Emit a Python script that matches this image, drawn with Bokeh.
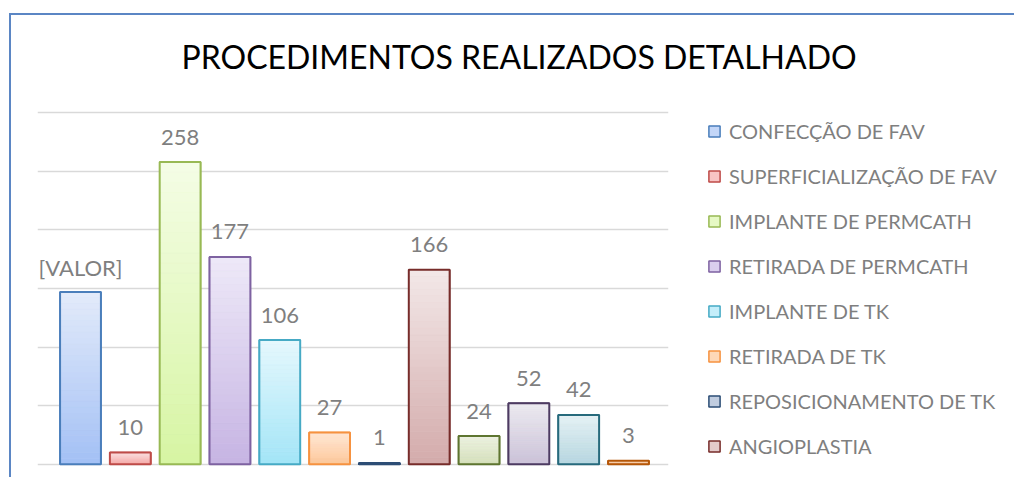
from bokeh.plotting import figure
from bokeh.models import (ColumnDataSource, Range1d, Grid, FixedTicker, Legend,
                          LegendItem, LabelSet, Title)
from bokeh.core.properties import value
from bokeh.embed import file_html
from bokeh.resources import INLINE

# ---------------- data ----------------
title_text = "PROCEDIMENTOS REALIZADOS DETALHADO"
legend_labels = ["CONFECÇÃO DE FAV", "SUPERFICIALIZAÇÃO DE FAV", "IMPLANTE DE PERMCATH",
                 "RETIRADA DE PERMCATH", "IMPLANTE DE TK", "RETIRADA DE TK",
                 "REPOSICIONAMENTO DE TK", "ANGIOPLASTIA"]
values = [147, 10, 258, 177, 106, 27, 1, 166, 24, 52, 42, 3]
value_labels = ["[VALOR]", "10", "258", "177", "106", "27", "1", "166", "24", "52", "42", "3"]
grid_ticks = [0, 50, 100, 150, 200, 250, 300]

# ---------------- style ----------------
border_colors = ["#4A7EBB", "#BE4B48", "#98B954", "#7E62A1", "#46AAC5", "#F69240",
                 "#2C4D75", "#772C2A", "#5E7530", "#4D3B62", "#276A7C", "#B65708"]
top_colors = ["#E3EBFA", "#FCE2E2", "#F4FDE6", "#EEE9F8", "#E6F8FD", "#FFE8D6",
              "#D9E1EE", "#F3E8E8", "#EEF3E3", "#EDEBF1", "#E6F2F5", "#FDE3CC"]
bottom_colors = ["#A3C0F5", "#F5A7A6", "#D7F5A3", "#C6B4E3", "#A3E5F7", "#FDC79A",
                 "#A9B9D2", "#D3ABAB", "#D4DFBA", "#CBC2D8", "#B6D6E0", "#F6B27A"]
FONT = "Lato"
TEXT_GREY = "#7F7F7F"


def hex2rgb(h):
    h = h.lstrip("#")
    return tuple(int(h[i:i + 2], 16) for i in (0, 2, 4))


def mix(c1, c2, t):
    a, b = hex2rgb(c1), hex2rgb(c2)
    return "#%02x%02x%02x" % tuple(round(a[i] + (b[i] - a[i]) * t) for i in range(3))


xs = list(range(len(values)))
mid_colors = [mix(b, t, 0.5) for b, t in zip(bottom_colors, top_colors)]

base_src = ColumnDataSource(dict(x=xs, top=values, fill=mid_colors, line=border_colors,
                                 lab=value_labels))

# gradient slices, derived from each bar's value
N = 30
sx, sb, st, sc = [], [], [], []
for i, v in enumerate(values):
    for k in range(N):
        sx.append(i)
        sb.append(v * k / N)
        st.append(v * (k + 1) / N)
        sc.append(mix(bottom_colors[i], top_colors[i], (k + 0.5) / N))
slice_src = ColumnDataSource(dict(x=sx, bottom=sb, top=st, color=sc))

p = figure(frame_width=631, frame_height=356,
           x_range=Range1d(-0.863, 11.803), y_range=Range1d(-2, 302),
           x_axis_location=None, y_axis_location=None,
           output_backend="svg", toolbar_location=None,
           min_border_left=26, min_border_right=335, min_border_top=95, min_border_bottom=11)
p.outline_line_color = None
p.background_fill_color = "white"
p.border_fill_color = "white"
p.xgrid.visible = False
p.ygrid.visible = False
p.margin = (13, 0, 0, 9)
p.styles = {"border-left": "2px solid #5B86C4", "border-top": "2px solid #5B86C4"}

p.add_layout(Grid(dimension=1, ticker=FixedTicker(ticks=grid_ticks),
                  grid_line_color="#D9D9D9", grid_line_width=1.5))

# legend proxy renderer (under the gradient)
leg_r = p.vbar(x="x", top="top", bottom=0, width=0.82, source=base_src,
               fill_color="fill", line_color="line", line_width=1.5)
# gradient fill
p.vbar(x="x", bottom="bottom", top="top", width=0.82, source=slice_src,
       fill_color="color", line_color="color", line_width=0.4)
# outline
p.vbar(x="x", top="top", bottom=0, width=0.82, source=base_src,
       fill_alpha=0, line_color="line", line_width=2)

labels = LabelSet(x="x", y="top", text="lab", source=base_src, text_align="center",
                  text_baseline="middle", y_offset=25, text_font=value(FONT),
                  text_font_size=value("22px"), text_color=value(TEXT_GREY))
p.add_layout(labels)

items = [LegendItem(label=lab, renderers=[leg_r], index=i) for i, lab in enumerate(legend_labels)]
legend = Legend(items=items, location=(39, 8), orientation="vertical",
                glyph_width=14, glyph_height=14, label_height=24, spacing=21,
                label_standoff=8, padding=0, margin=0,
                label_text_font=FONT, label_text_font_size="20px",
                label_text_color=TEXT_GREY, border_line_color=None,
                background_fill_alpha=0)
p.add_layout(legend, "right")

# spacer panel nearest to the frame, then the main title above it
p.add_layout(Title(text=" ", text_font_size="1px", standoff=32, text_color="white"), "above")
p.add_layout(Title(text=title_text, text_font=FONT, text_font_size="32px",
                   text_font_style="normal", text_color="black", align="left",
                   offset=144, standoff=0), "above")

open("out.html", "w").write(file_html(p, INLINE))
